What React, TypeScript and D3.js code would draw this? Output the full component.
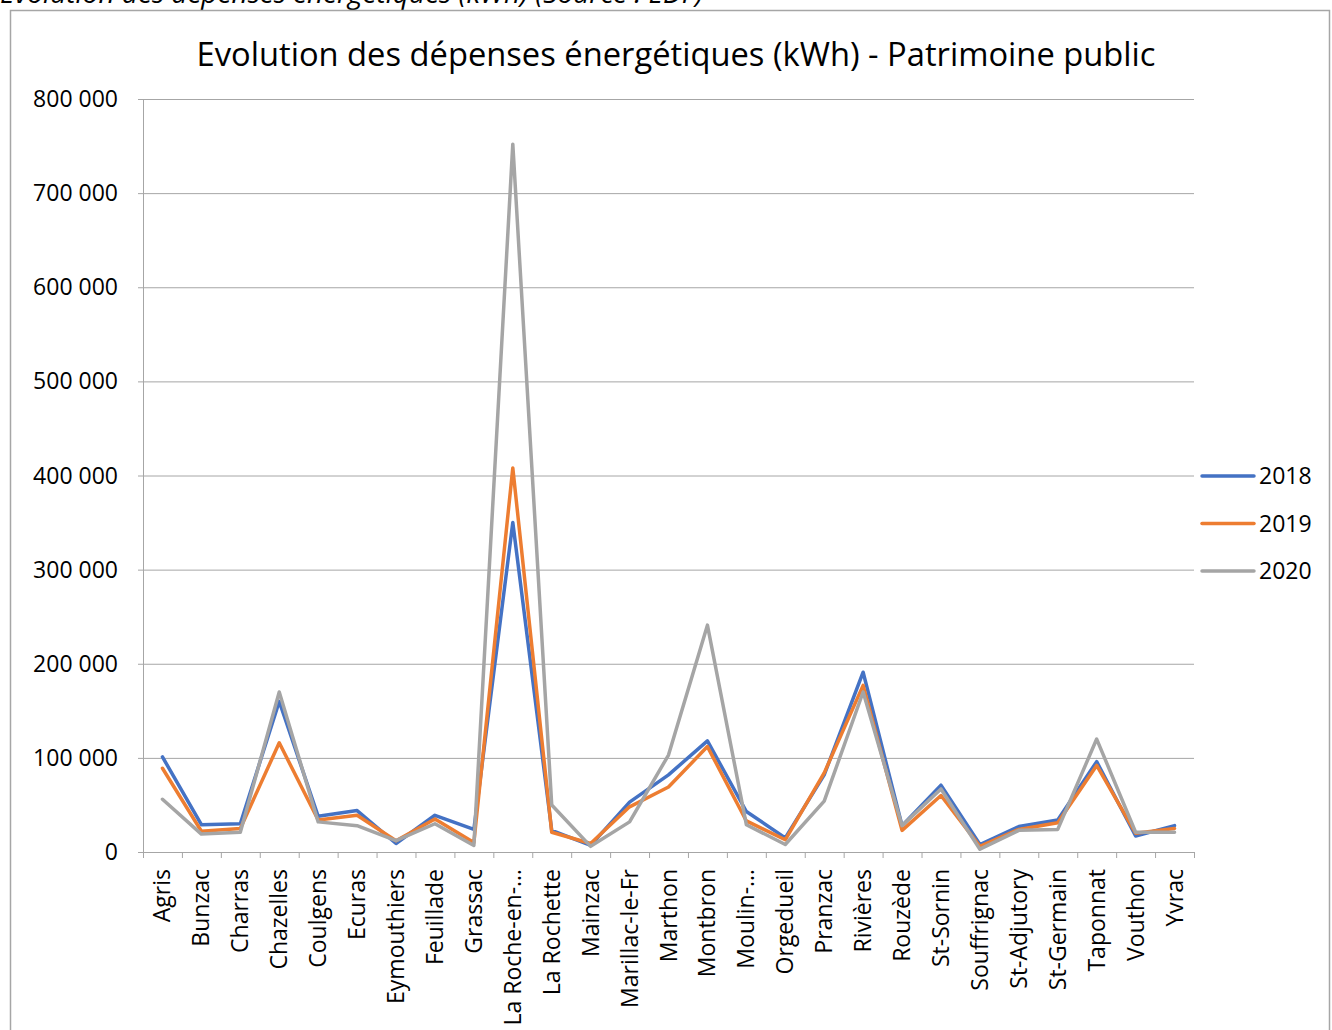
import React from "react";
import * as d3 from "d3";

const categories = ["Agris","Bunzac","Charras","Chazelles","Coulgens","Ecuras","Eymouthiers","Feuillade","Grassac","La Roche-en-…","La Rochette","Mainzac","Marillac-le-Fr","Marthon","Montbron","Moulin-…","Orgedueil","Pranzac","Rivières","Rouzède","St-Sornin","Souffrignac","St-Adjutory","St-Germain","Taponnat","Vouthon","Yvrac"];
const v2018 = [101000,29000,30000,160000,38000,44000,9000,39000,24000,350000,23000,7000,53000,82000,118000,43000,15000,82000,191000,28000,71000,8000,27000,34000,96000,17000,28000];
const v2019 = [89000,22000,25000,116000,34000,39000,12000,35000,10000,408000,21000,9000,48000,69000,112000,33000,13000,84000,177000,23000,60000,6000,24000,31000,92000,20000,25000];
const v2020 = [56000,19000,21000,170000,32000,28000,12000,30000,7000,752000,50000,6000,32000,103000,241000,29000,8000,54000,170000,28000,67000,3000,23000,24000,120000,21000,21000];
const yTicks = [0,100000,200000,300000,400000,500000,600000,700000,800000];
const seriesNames = ["2018","2019","2020"];
const seriesColors = ["#4472C4","#ED7D31","#A5A5A5"];

const FONT = "'Open Sans', 'Noto Sans', sans-serif";

export default function App() {
  const W = 1332, H = 1030;
  const left = 143, right = 1194, top = 99, bottom = 852;
  const x = d3.scaleBand<string>().domain(categories).range([left, right]);
  const y = d3.scaleLinear().domain([0, 800000]).range([bottom, top]);
  const fmt = (v: number) => d3.format(",")(v).replace(/,/g, " ");
  const line = d3.line<number>()
    .x((_, i) => (x(categories[i]) as number) + x.bandwidth() / 2)
    .y((d) => y(d));
  const series = [v2018, v2019, v2020];
  const boundaries = d3.range(categories.length + 1).map((i) => left + i * x.step());

  return (
    <svg width={W} height={H} style={{ position: "absolute", left: 0, top: 0, background: "#fff" }} fontFamily={FONT}>
      <rect x={0} y={0} width={W} height={H} fill="#fff" />
      <text x={0} y={3} fontSize={28} fontStyle="italic" fill="#000">Evolution des dépenses énergétiques (kWh) (Source : EDF)</text>
      <rect x={10.5} y={10.5} width={1319} height={1040} fill="none" stroke="#a6a6a6" strokeWidth={1.5} />
      <text x={676} y={66} fontSize={32.7} textAnchor="middle" fill="#000">Evolution des dépenses énergétiques (kWh) - Patrimoine public</text>
      {yTicks.map((t) => (
        <g key={t}>
          <line x1={138} x2={right} y1={y(t) + 0.5} y2={y(t) + 0.5} stroke="#a6a6a6" strokeWidth={1} />
          <text x={118} y={y(t) + 8} fontSize={23} textAnchor="end" fill="#000">{fmt(t)}</text>
        </g>
      ))}
      <line x1={left + 0.5} x2={left + 0.5} y1={top} y2={bottom + 6} stroke="#a6a6a6" strokeWidth={1} />
      {boundaries.map((b, i) => (
        <line key={i} x1={b + 0.5} x2={b + 0.5} y1={bottom} y2={bottom + 6} stroke="#a6a6a6" strokeWidth={1} />
      ))}
      {categories.map((c) => {
        const cx = (x(c) as number) + x.bandwidth() / 2;
        return (
          <text key={c} transform={`translate(${cx + 8},${869}) rotate(-90)`} fontSize={23} textAnchor="end" fill="#000">{c}</text>
        );
      })}
      {series.map((s, i) => (
        <path key={i} d={line(s) as string} fill="none" stroke={seriesColors[i]} strokeWidth={3.5} strokeLinejoin="round" strokeLinecap="round" />
      ))}
      {seriesNames.map((n, i) => {
        const ly = 476 + i * 47.5;
        return (
          <g key={n}>
            <line x1={1202} x2={1254} y1={ly} y2={ly} stroke={seriesColors[i]} strokeWidth={3.5} strokeLinecap="round" />
            <text x={1259} y={ly + 8} fontSize={23} fill="#000">{n}</text>
          </g>
        );
      })}
    </svg>
  );
}
